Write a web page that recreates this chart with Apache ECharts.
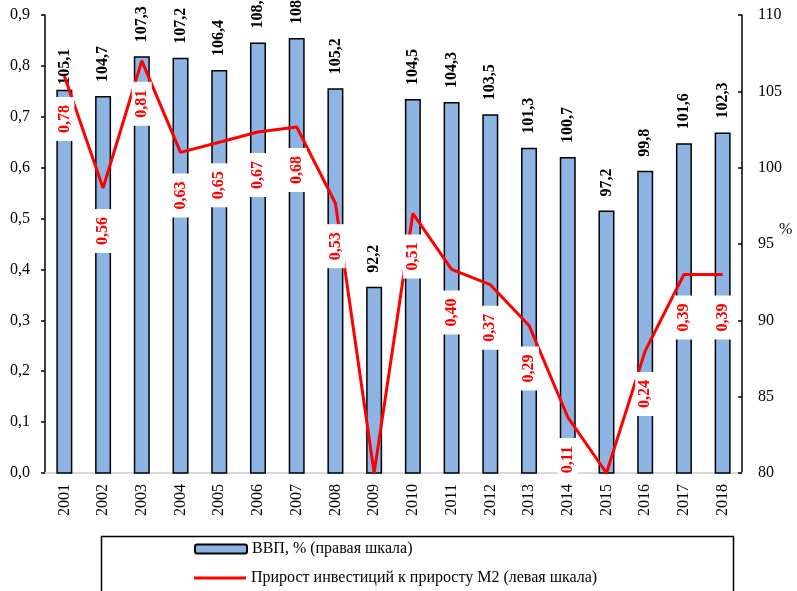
<!DOCTYPE html>
<html>
<head>
<meta charset="utf-8">
<script src="https://cdn.jsdelivr.net/npm/echarts@6/dist/echarts.min.js"></script>
<style>
  html, body { margin: 0; padding: 0; background: #fff; }
  #container { width: 797px; height: 591px; }
</style>
</head>
<body>
<div id="container"></div>
<script>
var years = ['2001', '2002', '2003', '2004', '2005', '2006', '2007', '2008', '2009',
    '2010', '2011', '2012', '2013', '2014', '2015', '2016', '2017', '2018'];
// ВВП, % (правая шкала)
var gdp = [105.1, 104.7, 107.3, 107.2, 106.4, 108.2, 108.5, 105.2, 92.2,
    104.5, 104.3, 103.5, 101.3, 100.7, 97.2, 99.8, 101.6, 102.3];
// Прирост инвестиций к приросту М2 (левая шкала)
var ratio = [0.78, 0.56, 0.81, 0.63, 0.65, 0.67, 0.68, 0.53, 0.00,
    0.51, 0.40, 0.37, 0.29, 0.11, 0.00, 0.24, 0.39, 0.39];

var gdpName = 'ВВП, % (правая шкала)';
var ratioName = 'Прирост инвестиций к приросту М2 (левая шкала)';
var serif = '"Liberation Serif", "Times New Roman", serif';

var myChart = echarts.init(document.getElementById('container'));

function comma(v, d) {
    return v.toFixed(d).replace('.', ',');
}

var option = {
    backgroundColor: '#fff',
    animation: false,
    textStyle: {fontFamily: serif},
    grid: {left: 45, right: 55, top: 15, bottom: 118},
    legend: [
        {
            data: [gdpName], left: 194, top: 540, padding: 0,
            itemWidth: 52, itemHeight: 9,
            textStyle: {fontFamily: serif, fontSize: 16, color: '#000', lineHeight: 18}
        },
        {
            data: [{name: ratioName, icon: 'rect'}], left: 194, top: 569, padding: 0,
            itemWidth: 52, itemHeight: 3,
            textStyle: {fontFamily: serif, fontSize: 16, color: '#000', lineHeight: 18}
        }
    ],
    graphic: [
        {
            type: 'rect', left: 99, top: 534, silent: true,
            shape: {width: 632, height: 80},
            style: {fill: 'none', stroke: '#000', lineWidth: 1.5}
        },
        {
            type: 'text', left: 779, top: 222, silent: true,
            style: {text: '%', font: '16px ' + serif, fill: '#000'}
        }
    ],
    xAxis: {
        type: 'category',
        data: years,
        boundaryGap: true,
        axisLine: {lineStyle: {color: '#d9d9d9', width: 2}},
        axisTick: {show: false},
        axisLabel: {rotate: 90, margin: 11, fontSize: 16, color: '#000', fontFamily: serif}
    },
    yAxis: [
        {
            type: 'value', min: 0, max: 0.9, interval: 0.1, position: 'left',
            axisLine: {show: true, lineStyle: {color: '#000', width: 1.5}},
            axisTick: {show: true, length: 4, lineStyle: {color: '#000', width: 1.5}},
            splitLine: {show: false},
            axisLabel: {
                margin: 15, fontSize: 16, color: '#000', fontFamily: serif,
                formatter: function (v) { return comma(v, 1); }
            }
        },
        {
            type: 'value', min: 80, max: 110, interval: 5, position: 'right',
            axisLine: {show: true, lineStyle: {color: '#000', width: 1.5}},
            axisTick: {show: true, inside: true, length: 4, lineStyle: {color: '#000', width: 1.5}},
            splitLine: {show: false},
            axisLabel: {margin: 16, fontSize: 16, color: '#000', fontFamily: serif}
        }
    ],
    series: [
        {
            name: gdpName,
            type: 'bar',
            yAxisIndex: 1,
            barWidth: 16,
            itemStyle: {color: '#8eb4e3', borderColor: '#000', borderWidth: 1.5},
            label: {
                show: true, position: 'top', distance: 14, rotate: 90,
                align: 'left', verticalAlign: 'middle',
                fontFamily: serif, fontSize: 16, fontWeight: 'bold', color: '#000',
                formatter: function (p) { return comma(p.value, 1); }
            },
            data: gdp.map(function (v, i) {
                return i === 0 ? {value: v, label: {distance: 5}} : v;
            })
        },
        {
            name: ratioName,
            type: 'line',
            yAxisIndex: 0,
            symbol: 'circle',
            symbolSize: 0.1,
            showSymbol: true,
            z: 5,
            lineStyle: {color: '#ff0000', width: 3},
            itemStyle: {color: '#ff0000'},
            label: {
                show: true, position: 'bottom', distance: 21, rotate: 90,
                align: 'right', verticalAlign: 'middle',
                backgroundColor: '#fff', padding: [2, 8, 2, 8],
                fontFamily: serif, fontSize: 16, fontWeight: 'bold', color: '#ff0000',
                formatter: function (p) { return comma(p.value, 2); }
            },
            labelLayout: {hideOverlap: false},
            data: ratio.map(function (v) {
                return v > 0 ? v : {value: v, label: {show: false}};
            })
        }
    ]
};

myChart.setOption(option);
</script>
</body>
</html>
